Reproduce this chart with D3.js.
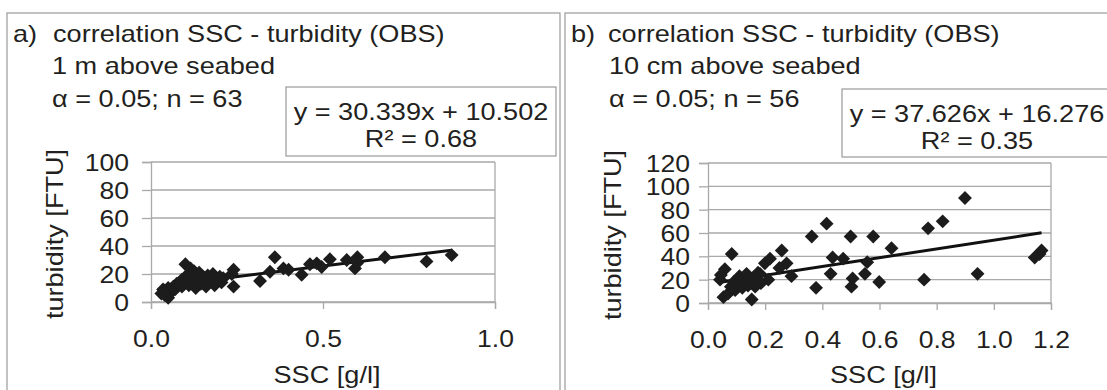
<!DOCTYPE html>
<html>
<head>
<meta charset="utf-8">
<script src="https://cdn.jsdelivr.net/npm/d3@7"></script>
<style>
  body { margin: 0; background: #fff; }
  svg text { font-family: "Liberation Sans", Arial, sans-serif; fill: #231f20; }
</style>
</head>
<body>
<div id="chart"></div>
<script>
// panel a: 1 m above seabed
const sscA = [0.03,0.035,0.04,0.04,0.045,0.05,0.05,0.055,0.06,0.065,0.07,0.075,0.08,0.085,0.09,0.09,0.095,0.1,0.1,0.105,
  0.11,0.11,0.115,0.12,0.12,0.125,0.13,0.13,0.135,0.14,0.145,0.15,0.155,0.16,0.165,0.17,0.175,0.18,0.185,0.19,
  0.2,0.205,0.21,0.24,0.24,0.235,
  0.317,0.346,0.36,0.385,0.40,0.438,0.462,0.482,0.496,0.52,0.569,0.593,0.6,0.6,0.68,0.801,0.874];
const turbA = [6,9,5,8,7,3,10,6,8,11,9,13,12,14,11,16,13,27,18,15,
  20,12,24,17,14,22,19,10,16,21,13,18,15,11,19,14,17,20,12,16,
  18,14,17,23,11,20,
  15,21.6,32,24,23,19.5,27,27.6,25,30.5,30,24,32,28,32,29,33.5];
// panel b: 10 cm above seabed
const sscB = [0.899,0.821,0.770,0.415,0.363,0.499,0.578,0.642,0.436,0.473,0.557,0.429,0.549,0.506,0.502,0.599,0.378,0.756,0.943,
  1.143,1.16,1.167,0.083,0.059,0.042,0.054,0.153,0.258,0.217,0.199,0.275,0.292,0.211,0.182,0.045,0.07,
  0.08,0.09,0.095,0.1,0.105,0.11,0.115,0.12,0.125,0.13,0.135,0.14,0.145,0.15,0.16,0.165,0.17,0.175,0.185,0.25];
const turbB = [90,70,64,68,57,57,57,47,39,38,35,25,25,21,14,18,13,20,25,
  39,42,45,42,29,20,5,3,45,38,34,34,23,20,25,24,8,
  14,18,11,20,15,23,17,13,21,18,25,15,20,17,22,14,19,26,17,30];

const yTicksA = [0,20,40,60,80,100];
const xTicksA = [0,0.5,1.0];
const yTicksB = [0,20,40,60,80,100,120];
const xTicksB = [0,0.2,0.4,0.6,0.8,1.0,1.2];

const panels = [
  {tag:"a)", title:"correlation SSC - turbidity (OBS)", sub:"1 m above seabed", stat:"\u03b1 = 0.05; n = 63",
   eq:"y = 30.339x + 10.502", r2:"R\u00b2 = 0.68", slope:30.339, icpt:10.502,
   xs:sscA, ys:turbA, xTicks:xTicksA, yTicks:yTicksA, xMax:1.0, yMax:100,
   frame:[7,13,553], tagX:13, titleX:53, subX:52, box:[286,87,270,69],
   px:[151,495], py:[302,162], ylabX:54, yOff:22},
  {tag:"b)", title:"correlation SSC - turbidity (OBS)", sub:"10 cm above seabed", stat:"\u03b1 = 0.05; n = 56",
   eq:"y = 37.626x + 16.276", r2:"R\u00b2 = 0.35", slope:37.626, icpt:16.276,
   xs:sscB, ys:turbB, xTicks:xTicksB, yTicks:yTicksB, xMax:1.2, yMax:120,
   frame:[565,13,560], tagX:571, titleX:608, subX:609, box:[842,89,270,68],
   px:[708,1051], py:[303,163], ylabX:612, yOff:18}
];

const W = 1107, H = 390;
const SX = 1.13;   // glyphs in the original are wider than Arial
const svg = d3.select("#chart").append("svg")
    .attr("width", W).attr("height", H);

const grey = "#a9a9a9";
const diamond = { draw(ctx, size) { const r = Math.sqrt(size / 2);
  ctx.moveTo(0, -r); ctx.lineTo(r, 0); ctx.lineTo(0, r); ctx.lineTo(-r, 0); ctx.closePath(); } };

function label(g, x, y, s, size, anchor, rot) {
  return g.append("text")
    .attr("transform", `translate(${x},${y})${rot ? " rotate(-90)" : ""} scale(${SX},1)`)
    .attr("text-anchor", anchor || "start")
    .attr("font-size", size).text(s);
}

panels.forEach(p => {
  const g = svg.append("g");
  // outer frame
  g.append("rect").attr("x", p.frame[0]).attr("y", p.frame[1])
    .attr("width", p.frame[2]).attr("height", 420)
    .attr("fill", "none").attr("stroke", "#9a9a9a").attr("stroke-width", 1.2);

  label(g, p.tagX, 42, p.tag, 24);
  label(g, p.titleX, 42, p.title, 24);
  label(g, p.subX, 74, p.sub, 24);
  label(g, p.subX, 107, p.stat, 24);

  // equation box
  const [bx, by, bw, bh] = p.box;
  g.append("rect").attr("x", bx).attr("y", by).attr("width", bw).attr("height", bh)
    .attr("fill", "#fff").attr("stroke", "#9a9a9a").attr("stroke-width", 1.2);
  label(g, bx + bw / 2, by + 33, p.eq, 24, "middle");
  label(g, bx + bw / 2, by + 60, p.r2, 24, "middle");

  const x = d3.scaleLinear().domain([0, p.xMax]).range(p.px);
  const y = d3.scaleLinear().domain([0, p.yMax]).range(p.py);

  // gridlines
  g.append("g").selectAll("line").data(p.yTicks).join("line")
    .attr("x1", p.px[0]).attr("x2", p.px[1])
    .attr("y1", d => y(d)).attr("y2", d => y(d))
    .attr("stroke", grey).attr("stroke-width", 1.3);
  // right border of plot area
  g.append("line").attr("x1", p.px[1]).attr("x2", p.px[1])
    .attr("y1", p.py[0]).attr("y2", p.py[1]).attr("stroke", grey).attr("stroke-width", 1.3);

  const yAxis = g.append("g").attr("transform", `translate(${p.px[0]},0)`)
    .call(d3.axisLeft(y).tickValues(p.yTicks).tickSize(9).tickFormat(d3.format("d")));
  const xAxis = g.append("g").attr("transform", `translate(0,${p.py[0]})`)
    .call(d3.axisBottom(x).tickValues(p.xTicks).tickSize(7).tickPadding(21).tickFormat(d3.format(".1f")));
  [yAxis, xAxis].forEach(a => {
    a.select(".domain").attr("stroke", grey).attr("stroke-width", 1.3);
    a.selectAll(".tick line").attr("stroke", grey).attr("stroke-width", 1.3);
    a.selectAll(".tick text").attr("font-size", 23.5).attr("font-family", null).attr("fill", "#231f20");
  });
  yAxis.selectAll(".tick text").attr("x", 0).attr("dy", "0.36em")
    .attr("transform", `translate(${-p.yOff},0) scale(${SX},1)`);
  xAxis.selectAll(".tick text").attr("dy", "0.72em").attr("transform", `scale(${SX},1)`);

  // axis titles
  label(g, p.ylabX, (p.py[0] + p.py[1]) / 2 + 2, "turbidity [FTU]", 24, "middle", true)
    .attr("dy", "0.36em");
  label(g, (p.px[0] + p.px[1]) / 2 + 4, 383, "SSC [g/l]", 24, "middle");

  // trend line
  const xr = d3.extent(p.xs);
  g.append("line")
    .attr("x1", x(xr[0])).attr("y1", y(p.slope * xr[0] + p.icpt))
    .attr("x2", x(xr[1])).attr("y2", y(p.slope * xr[1] + p.icpt))
    .attr("stroke", "#111").attr("stroke-width", 3);

  // points
  g.append("g").selectAll("path").data(p.xs.map((v, i) => [v, p.ys[i]])).join("path")
    .attr("transform", d => `translate(${x(d[0])},${y(d[1])})`)
    .attr("d", d3.symbol().type(diamond).size(96))
    .attr("fill", "#1c1c1c");
});
</script>
</body>
</html>
